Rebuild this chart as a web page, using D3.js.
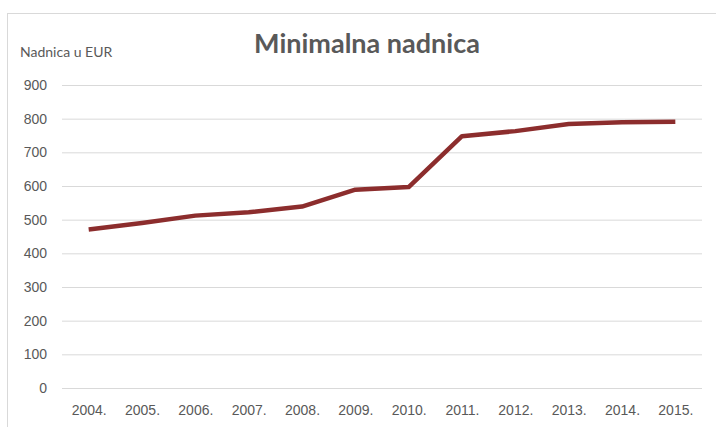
<!DOCTYPE html>
<html>
<head>
<meta charset="utf-8">
<script src="https://cdn.jsdelivr.net/npm/d3@7"></script>
<style>
  body { margin: 0; background: #fff; }
  svg { display: block; font-family: Lato, "Open Sans", sans-serif; }
</style>
</head>
<body>
<div id="mainDiv"></div>
<script>
'use strict';

var years = ['2004.', '2005.', '2006.', '2007.', '2008.', '2009.', '2010.', '2011.', '2012.', '2013.', '2014.', '2015.'];
var wages = [471, 490, 512, 522, 539, 589, 597, 748, 763, 784, 789, 791];
var yTicks = [0, 100, 200, 300, 400, 500, 600, 700, 800, 900];

var myApp = {};
myApp.w = 716;
myApp.h = 427;
myApp.margins = {top: 85, bottom: 39, left: 62, right: 14};

myApp.run = function()
{
    var svg = d3.select('#mainDiv').append('svg')
        .attr('width', myApp.w)
        .attr('height', myApp.h);

    // chart frame
    svg.append('rect')
        .attr('x', 7.5).attr('y', 13.5)
        .attr('width', 730).attr('height', 430)
        .attr('fill', 'none')
        .attr('stroke', '#d9d9d9');

    var pw = myApp.w - myApp.margins.left - myApp.margins.right;
    var ph = myApp.h - myApp.margins.top - myApp.margins.bottom;

    var x = d3.scalePoint().domain(years).range([0, pw]).padding(0.5);
    var y = d3.scaleLinear().domain([0, 900]).range([ph, 0]);

    var g = svg.append('g')
        .attr('transform', 'translate(' + myApp.margins.left + ',' + myApp.margins.top + ')');

    var yAxis = g.append('g')
        .call(d3.axisLeft(y).tickValues(yTicks).tickSize(-pw).tickPadding(15));
    yAxis.select('.domain').remove();
    yAxis.selectAll('line').attr('stroke', '#d9d9d9');
    yAxis.selectAll('text').attr('fill', '#595959').style('font-size', '14px');

    var xAxis = g.append('g')
        .attr('transform', 'translate(0,' + ph + ')')
        .call(d3.axisBottom(x).tickSize(0).tickPadding(17));
    xAxis.select('.domain').remove();
    xAxis.selectAll('text').attr('fill', '#595959').style('font-size', '14px');

    var line = d3.line()
        .x(function(d, i) { return x(years[i]); })
        .y(function(d) { return y(d); });

    g.append('path')
        .datum(wages)
        .attr('d', line)
        .attr('fill', 'none')
        .attr('stroke', '#8c2d2d')
        .attr('stroke-width', 4.5)
        .attr('stroke-linejoin', 'round');

    svg.append('text')
        .attr('x', 367).attr('y', 53)
        .attr('text-anchor', 'middle')
        .attr('fill', '#595959')
        .style('font-size', '27px')
        .style('font-weight', 'bold')
        .text('Minimalna nadnica');

    svg.append('text')
        .attr('x', 20).attr('y', 57)
        .attr('fill', '#595959')
        .style('font-size', '14px')
        .text('Nadnica u EUR');
}

window.onload = myApp.run;
</script>
</body>
</html>
